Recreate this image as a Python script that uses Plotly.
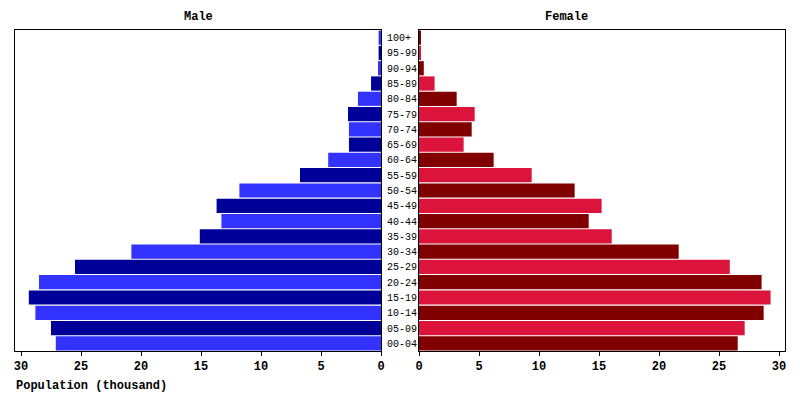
import plotly.graph_objects as go

ages = ["00-04", "05-09", "10-14", "15-19", "20-24", "25-29", "30-34", "35-39",
        "40-44", "45-49", "50-54", "55-59", "60-64", "65-69", "70-74", "75-79",
        "80-84", "85-89", "90-94", "95-99", "100+"]
male = [27.1, 27.5, 28.8, 29.35, 28.5, 25.5, 20.8, 15.1, 13.3, 13.7, 11.8, 6.75,
        4.4, 2.67, 2.67, 2.75, 1.92, 0.83, 0.25, 0.2, 0.2]
female = [26.56, 27.14, 28.72, 29.3, 28.55, 25.9, 21.64, 16.06, 14.14, 15.22, 12.97, 9.39,
          6.22, 3.72, 4.39, 4.64, 3.14, 1.3, 0.4, 0.15, 0.15]
tick_vals = [0, 5, 10, 15, 20, 25, 30]

male_colors = ["#3333FF" if i % 2 == 0 else "#000099" for i in range(len(ages))]
female_colors = ["#800000" if i % 2 == 0 else "#DC143C" for i in range(len(ages))]

W, H = 800, 400
OFF = 8  # default page body margin
def px(x):
    return (x - OFF) / W
def py(y):
    return 1 - (y - OFF) / H

MONO = "Liberation Mono"

fig = go.Figure()
fig.add_trace(go.Bar(y=ages, x=male, orientation="h", marker=dict(color=male_colors, line=dict(width=0)),
                     xaxis="x", yaxis="y", showlegend=False, hoverinfo="x+y"))
fig.add_trace(go.Bar(y=ages, x=female, orientation="h", marker=dict(color=female_colors, line=dict(width=0)),
                     xaxis="x2", yaxis="y2", showlegend=False, hoverinfo="x+y"))

axis_common = dict(showline=True, mirror=True, linecolor="black", linewidth=1,
                   showgrid=False, zeroline=False, ticks="outside", ticklen=4,
                   tickcolor="black", tickwidth=1, tickvals=tick_vals, automargin=False,
                   tickfont=dict(family=MONO, size=12, color="black", weight="bold"))

fig.update_layout(
    width=W, height=H,
    margin=dict(l=0, r=0, t=0, b=0, autoexpand=False),
    paper_bgcolor="white", plot_bgcolor="white",
    bargap=0.07,
    xaxis=dict(domain=[px(15), px(381)], range=[30.5, 0], anchor="y", **axis_common),
    xaxis2=dict(domain=[px(419), px(785)], range=[0, 30.5], anchor="y2", **axis_common),
    yaxis=dict(domain=[py(351), py(30)], anchor="x", side="right", type="category",
               categoryorder="array", categoryarray=ages, automargin=False,
               showline=True, mirror=True, linecolor="black", linewidth=1,
               ticks="", showgrid=False, ticklabelstandoff=3,
               tickfont=dict(family=MONO, size=10, color="black")),
    yaxis2=dict(domain=[py(351), py(30)], anchor="x2", type="category",
                categoryorder="array", categoryarray=ages, automargin=False,
                showline=True, mirror=True, linecolor="black", linewidth=1,
                ticks="", showgrid=False, showticklabels=False),
    font=dict(family=MONO, color="black"),
    annotations=[
        dict(text="Male", x=px(198), y=py(17), xref="paper", yref="paper",
             xanchor="center", yanchor="middle",
             showarrow=False, font=dict(family=MONO, size=12, weight="bold")),
        dict(text="Female", x=px(566), y=py(17), xref="paper", yref="paper",
             xanchor="center", yanchor="middle",
             showarrow=False, font=dict(family=MONO, size=12, weight="bold")),
        dict(text="Population (thousand)", x=px(14), y=py(386), xref="paper", yref="paper",
             xanchor="left", yanchor="middle",
             showarrow=False, font=dict(family=MONO, size=12, weight="bold")),
    ],
)

fig.write_html("out.html")
